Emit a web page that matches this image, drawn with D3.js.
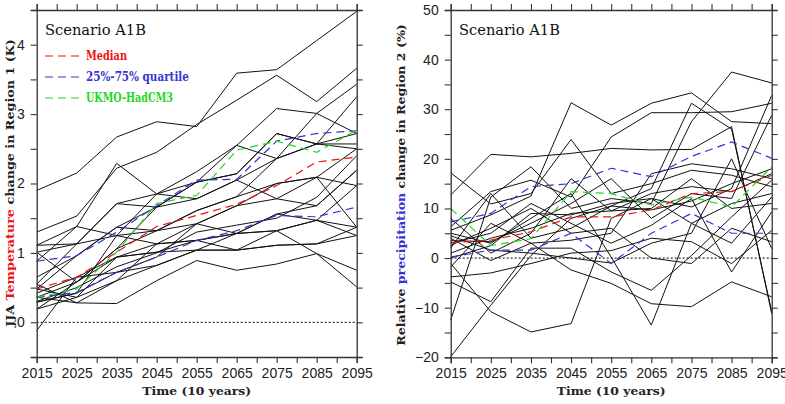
<!DOCTYPE html>
<html>
<head>
<meta charset="utf-8">
<script src="https://cdn.jsdelivr.net/npm/d3@7"></script>
<style>
  body { margin: 0; background: #fff; }
  svg { display: block; }
</style>
</head>
<body>
<svg id="chart" width="785" height="404"></svg>
<script>
// decades on the x axis and the 5-year tick marks
const years = [2015, 2025, 2035, 2045, 2055, 2065, 2075, 2085, 2095];
const yearTicks = d3.range(2015, 2096, 5);

// left panel: JJA temperature change in region 1 (K)
const tempMedian = [0.48, 0.65, 1.01, 1.38, 1.54, 1.70, 1.97, 2.31, 2.38];
const tempQ25 = [0.36, 0.43, 0.72, 0.94, 1.18, 1.32, 1.54, 1.52, 1.66];
const tempQ75 = [0.88, 0.96, 1.30, 1.68, 2.05, 2.06, 2.61, 2.72, 2.76];
const tempUKMO = [0.36, 0.48, 1.01, 1.71, 1.83, 2.48, 2.61, 2.45, 2.77];
const tempModels = [
  [1.90, 2.15, 2.67, 2.89, 2.82, 3.59, 3.64, 4.06, 4.48],
  [1.30, 1.53, 2.22, 2.45, 2.85, 3.20, 3.56, 3.18, 3.66],
  [1.11, 1.38, 2.29, 1.85, 2.17, 2.55, 3.08, 3.01, 2.72],
  [1.01, 1.13, 1.71, 1.66, 2.02, 2.14, 2.72, 2.57, 2.57],
  [0.55, 1.13, 1.71, 1.85, 1.78, 2.05, 2.36, 3.01, 3.43],
  [0.48, 0.96, 1.37, 1.32, 1.61, 1.81, 2.00, 2.09, 2.50],
  [0.36, 0.58, 1.06, 1.66, 2.02, 2.55, 2.36, 2.57, 3.25],
  [0.29, 0.42, 1.25, 1.13, 1.42, 1.68, 1.78, 1.68, 2.19],
  [0.19, 0.36, 0.94, 1.01, 1.18, 1.28, 1.56, 1.47, 1.97],
  [-0.12, 0.65, 0.72, 0.82, 1.04, 1.04, 1.11, 1.13, 1.37],
  [0.55, 0.28, 0.27, 0.60, 0.89, 0.75, 0.84, 0.99, 0.51],
  [0.48, 0.36, 0.60, 1.13, 1.18, 1.28, 1.32, 1.47, 1.25],
  [1.01, 0.58, 0.94, 1.01, 1.04, 1.04, 1.32, 0.99, 0.75],
  [0.29, 0.42, 0.72, 0.94, 1.42, 1.68, 2.00, 2.09, 1.97],
  [0.36, 0.28, 0.60, 0.82, 1.04, 1.28, 1.56, 1.68, 2.19],
  [0.19, 0.58, 1.06, 1.32, 1.61, 1.81, 2.36, 2.57, 2.72],
  [0.88, 1.38, 1.25, 1.85, 2.02, 2.14, 2.72, 2.57, 2.50],
  [0.65, 0.96, 1.37, 1.66, 1.78, 2.05, 1.78, 2.09, 1.37],
  [0.42, 0.65, 0.94, 1.13, 1.18, 1.04, 1.11, 1.13, 1.25],
  [1.11, 1.13, 1.25, 1.32, 1.42, 1.28, 1.32, 1.47, 1.37],
  [0.30, 0.50, 0.80, 1.00, 1.30, 1.40, 1.50, 1.80, 2.40]
];
const tempTicks = d3.range(-0.5, 4.51, 0.5);

// right panel: relative precipitation change in region 2 (%)
const precMedian = [3.1, 3.6, 5.3, 8.3, 8.3, 9.7, 13.0, 13.4, 16.7];
const precQ25 = [0.2, 1.6, 1.6, 5.0, -1.1, 5.0, 9.0, 5.0, 5.0];
const precQ75 = [7.3, 9.0, 14.4, 15.0, 18.1, 16.4, 20.5, 23.4, 20.1];
const precUKMO = [10.0, 2.5, 3.9, 13.4, 13.0, 10.7, 12.3, 10.3, 18.4];
const precModels = [
  [12.7, 20.9, 20.4, 21.1, 22.1, 21.8, 21.9, 26.5, -11.2],
  [17.2, 10.9, 13.0, 23.9, 13.0, 15.0, 17.7, 16.7, 14.4],
  [5.6, 8.7, 12.5, 31.3, 26.8, 31.2, 33.3, 27.5, 27.1],
  [6.3, 13.4, 15.7, 12.3, 24.4, 29.3, 29.3, 29.5, 31.2],
  [-12.5, 12.3, 18.4, 10.0, 12.0, 11.0, 27.5, 37.5, 35.3],
  [-19.9, -9.5, 0.5, 8.0, 10.5, 14.0, 31.2, 26.0, -10.8],
  [-1.1, -10.8, -14.9, -13.2, 8.0, 12.0, 10.3, 14.0, 32.8],
  [-4.8, -8.8, 2.0, 2.0, -2.8, -6.5, 0.5, 8.3, 15.7],
  [4.0, -0.5, 3.0, -2.4, -5.1, -9.2, -9.8, -4.8, -7.8],
  [5.0, 3.0, 8.0, 13.0, 0.2, -13.5, 7.0, 3.0, 12.3],
  [3.0, 5.0, 11.0, 7.0, 3.0, 6.6, 12.0, -2.8, 9.3],
  [2.0, 13.0, 4.0, 6.0, 10.5, 9.7, 11.5, 15.0, 18.0],
  [1.0, 4.0, 6.0, 9.0, 9.5, 13.0, 14.4, 13.4, 17.0],
  [0.0, 2.5, 9.0, 8.7, 11.0, 12.0, 7.0, 11.0, 13.0],
  [3.5, 3.3, 7.0, 11.0, 16.0, 8.0, 13.0, 12.0, 28.8],
  [8.0, 1.0, 5.0, 16.0, 9.5, 10.0, 16.0, 10.0, 11.0],
  [-3.8, -3.0, -1.1, 1.0, 1.5, 4.0, 3.3, -1.1, 5.6],
  [2.6, 6.0, 10.0, 5.0, 6.0, 0.0, -1.1, 6.0, 3.3],
  [4.5, 1.6, 1.0, 0.0, -1.0, 3.0, 5.0, 20.0, 1.9],
  [-1.8, 7.0, 3.0, 3.6, 5.0, 17.0, 19.0, 18.0, 16.0]
];
const precTicks = d3.range(-20, 51, 5);

const legendLabels = ["Median", "25%-75% quartile", "UKMO-HadCM3"];

const RED = "#ee1111", BLUE = "#3434d4", GREEN = "#22d622";
const serif = "'DejaVu Serif', serif";
const sans = "'Liberation Sans', Arial, sans-serif";

const svg = d3.select("#chart");

// squeeze a text horizontally so it covers the width measured in the reference
function fitText(sel, target, pre) {
  let w = sel.node().getComputedTextLength();
  sel.attr("transform", (pre || "") + " scale(" + (target / w) + ",1)");
}

function drawPanel(p) {
  const x = d3.scaleLinear().domain([2015, 2095]).range([p.left, p.right]);
  const y = d3.scaleLinear().domain(p.yDomain).range([p.bottom, p.top]);
  const g = svg.append("g");

  // zero reference line
  g.append("line")
    .attr("x1", x(2015)).attr("x2", x(2095))
    .attr("y1", y(0)).attr("y2", y(0))
    .attr("stroke", "#000").attr("stroke-width", 1)
    .attr("stroke-dasharray", "2,2");

  const line = d3.line().x((d, i) => x(years[i])).y(d => y(d));

  g.append("g").selectAll("path")
    .data(p.models)
    .join("path")
    .attr("d", line)
    .attr("fill", "none")
    .attr("stroke", "#111")
    .attr("stroke-width", 1);

  // dashed summary lines on top
  const dashed = [
    { v: p.q25, c: BLUE },
    { v: p.q75, c: BLUE },
    { v: p.median, c: RED },
    { v: p.ukmo, c: GREEN }
  ];
  g.append("g").selectAll("path")
    .data(dashed)
    .join("path")
    .attr("d", d => line(d.v))
    .attr("fill", "none")
    .attr("stroke", d => d.c)
    .attr("stroke-width", 1.2)
    .attr("stroke-dasharray", "8,5");

  // axes, all ticks pointing outward
  const yearLabel = d => ((d - 2015) % 10 === 0 ? d : "");
  const axes = [
    g.append("g").attr("transform", "translate(0," + p.bottom + ")")
      .call(d3.axisBottom(x).tickValues(yearTicks).tickFormat(yearLabel).tickSize(6).tickPadding(5)),
    g.append("g").attr("transform", "translate(0," + p.top + ")")
      .call(d3.axisTop(x).tickValues(yearTicks).tickFormat("").tickSize(6)),
    g.append("g").attr("transform", "translate(" + p.left + ",0)")
      .call(d3.axisLeft(y).tickValues(p.yTicks).tickFormat(p.yLabel).tickSize(6).tickPadding(6)),
    g.append("g").attr("transform", "translate(" + p.right + ",0)")
      .call(d3.axisRight(y).tickValues(p.yTicks).tickFormat("").tickSize(6))
  ];
  axes.forEach(a => {
    a.select(".domain").attr("stroke", "#333").attr("stroke-width", 1.3);
    a.selectAll(".tick line").attr("stroke", "#333").attr("stroke-width", 1.1);
    a.selectAll("text").attr("font-family", sans).attr("font-size", 14).attr("fill", "#222");
  });

  // scenario label
  const sc = g.append("text")
    .attr("x", 0).attr("y", 0)
    .attr("font-family", serif).attr("font-size", 14)
    .attr("fill", "#111")
    .text("Scenario A1B");
  fitText(sc, 101, "translate(" + p.scX + ",35)");

  // x title
  const xt = g.append("text")
    .attr("text-anchor", "middle")
    .attr("font-family", serif).attr("font-size", 11).attr("font-weight", "bold")
    .attr("fill", "#222")
    .text("Time (10 years)");
  fitText(xt, 109, "translate(" + ((p.left + p.right) / 2) + ",395)");

  // y title with coloured variable name
  const yt = g.append("text")
    .attr("text-anchor", "middle")
    .attr("font-family", serif).attr("font-size", 11).attr("font-weight", "bold")
    .attr("fill", "#222");
  yt.append("tspan").text(p.yTitle[0]);
  yt.append("tspan").attr("fill", p.yTitle[2]).text(p.yTitle[1]);
  yt.append("tspan").text(p.yTitle[3]);
  fitText(yt, p.yTitleLen, "translate(" + p.yTitleX + "," + p.yTitleY + ") rotate(-90)");

  return { x, y, g };
}

drawPanel({
  left: 36.7, right: 356.7, top: 10, bottom: 357,
  yDomain: [-0.5, 4.5], yTicks: tempTicks,
  yLabel: d => (Number.isInteger(d) ? d : ""),
  models: tempModels, median: tempMedian, q25: tempQ25, q75: tempQ75, ukmo: tempUKMO,
  scX: 45,
  yTitle: ["JJA ", "Temperature", RED, " change in Region 1 (K)"],
  yTitleX: 13.5, yTitleY: 183, yTitleLen: 288
});

drawPanel({
  left: 450.7, right: 771.7, top: 10, bottom: 357.3,
  yDomain: [-20, 50], yTicks: precTicks,
  yLabel: d => (d % 10 === 0 ? d3.format("d")(d) : ""),
  models: precModels, median: precMedian, q25: precQ25, q75: precQ75, ukmo: precUKMO,
  scX: 459,
  yTitle: ["Relative ", "precipitation", BLUE, " change in Region 2 (%)"],
  yTitleX: 405, yTitleY: 185, yTitleLen: 322
});

// legend (left panel only)
const legendColors = [RED, BLUE, GREEN];
const legendWidths = [41, 103, 87];
const leg = svg.append("g");
legendLabels.forEach((lab, i) => {
  const ly = 56 + i * 21;
  leg.append("line")
    .attr("x1", 45).attr("x2", 80).attr("y1", ly).attr("y2", ly)
    .attr("stroke", legendColors[i]).attr("stroke-width", 1.2)
    .attr("stroke-dasharray", "8,5");
  const t = leg.append("text")
    .attr("font-family", serif).attr("font-size", 12).attr("font-weight", "bold")
    .attr("fill", legendColors[i])
    .text(lab);
  fitText(t, legendWidths[i], "translate(86," + (ly + 4) + ")");
});
</script>
</body>
</html>
